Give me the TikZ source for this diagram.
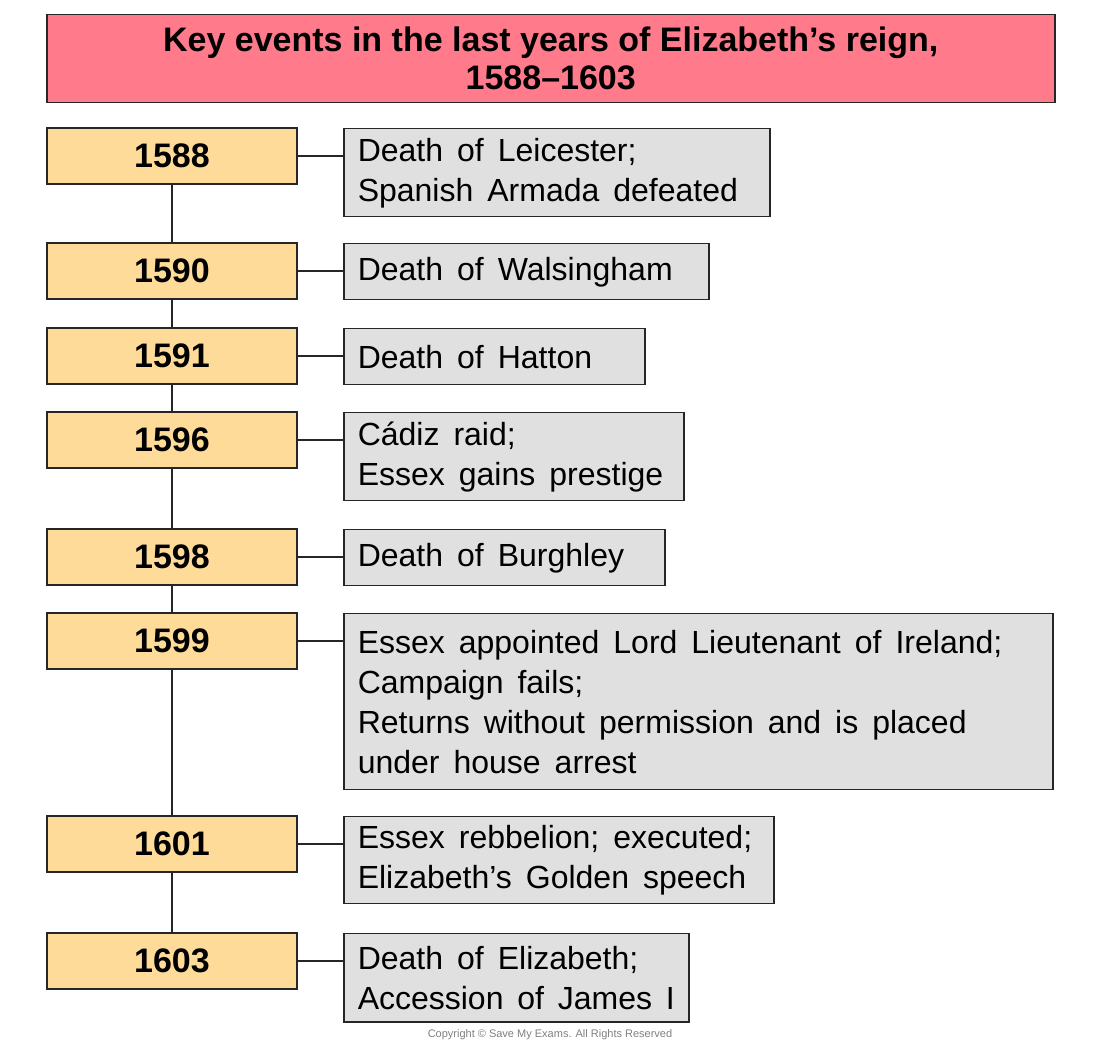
\documentclass[tikz,border=0pt]{standalone}
\usepackage{fontspec}
\setmainfont{Liberation Sans}
\usepackage{xcolor}
\usetikzlibrary{positioning}
\definecolor{titlefill}{RGB}{255,122,138}
\definecolor{yrfill}{RGB}{254,219,153}
\definecolor{evfill}{RGB}{224,224,224}
\begin{document}
\begin{tikzpicture}[x=0.5pt, y=-0.5pt, line width=0.75pt, lbl/.style={font=\fontsize{16}{20}\selectfont, execute at begin node={\spaceskip=7pt plus 1pt minus 1pt\hfuzz=5pt}}]
\tikzstyle{yr}=[draw=black!85, fill=yrfill, minimum width=125pt, minimum height=28pt, font=\fontsize{17}{20}\selectfont\bfseries]
\tikzstyle{evt}=[draw=black!85, fill=evfill, anchor=north west, align=left, inner xsep=7pt, inner ysep=0pt, lbl]
\useasboundingbox (0,0) rectangle (1100,1048);
\node[draw=black!85, fill=titlefill, anchor=north west, minimum width=504pt, minimum height=44pt, align=center, font=\fontsize{17}{19}\selectfont\bfseries] (title) at (46,14) {Key events in the last years of Elizabeth's reign,\\1588--1603};
% year boxes
\foreach \k/\y in {1588/156,1590/271,1591/356,1596/440,1598/557,1599/641,1601/844,1603/961}{\node[yr] (y\k) at (172,\y) {\k};}
% event boxes
\node[evt, text width=199pt, minimum height=44pt] (e1588) at (343,128) {Death of Leicester;\\Spanish Armada defeated};
\node[evt, text width=168.5pt, minimum height=28pt] (e1590) at (343,243) {Death of Walsingham};
\node[evt, text width=136.5pt, minimum height=28pt] (e1591) at (343,328) {Death of Hatton};
\node[evt, text width=156pt, minimum height=44pt] (e1596) at (343,412) {Cádiz raid;\\Essex gains prestige};
\node[evt, text width=146.5pt, minimum height=28pt] (e1598) at (343,529) {Death of Burghley};
\node[evt, text width=340.5pt, minimum height=88pt] (e1599) at (343,613) {Essex appointed Lord Lieutenant of Ireland;\\Campaign fails;\\Returns without permission and is placed\\under house arrest};
\node[evt, text width=201pt, minimum height=43.5pt] (e1601) at (343,816) {Essex rebbelion; executed;\\Elizabeth's Golden speech};
\node[evt, text width=158.5pt, minimum height=44pt] (e1603) at (343,933) {Death of Elizabeth;\\Accession of James~I};
\foreach \a/\b in {1588/1590,1590/1591,1591/1596,1596/1598,1598/1599,1599/1601,1601/1603}{\draw[black!85] (y\a) -- (y\b);}
\foreach \k in {1588,1590,1591,1596,1598,1599,1601,1603}{\draw[black!85] (y\k.east) -- (y\k.east -| e\k.west);}
\node[text=black!50, font=\fontsize{5.5}{6}\selectfont] (copy) at (550,1035) {Copyright \textcopyright{} Save My Exams. All Rights Reserved};
\end{tikzpicture}
\end{document}
